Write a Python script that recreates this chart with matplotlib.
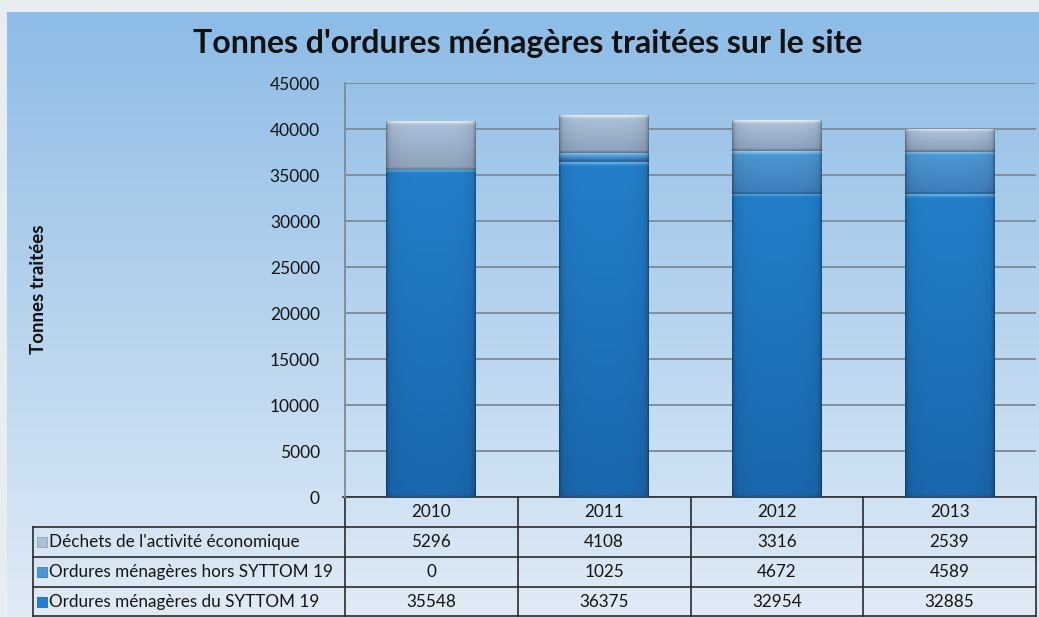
import numpy as np
import matplotlib
matplotlib.use("Agg")
import matplotlib.pyplot as plt
from matplotlib.colors import to_rgb
from matplotlib.transforms import blended_transform_factory

# data
years = ["2010", "2011", "2012", "2013"]
names = ["Ordures ménagères du SYTTOM 19",
         "Ordures ménagères hors SYTTOM 19",
         "Déchets de l'activité économique"]
syttom = [35548, 36375, 32954, 32885]
hors_syttom = [0, 1025, 4672, 4589]
dechets = [5296, 4108, 3316, 2539]
series = [syttom, hors_syttom, dechets]

W, H = 1039, 617
plt.rcParams["font.family"] = ["Lato", "DejaVu Sans"]
fig = plt.figure(figsize=(W / 100, H / 100), dpi=100)
fig.patch.set_facecolor("#e8eef0")

# blue panel with vertical gradient
bg = fig.add_axes([7 / W, 0, 1 - 7 / W, 1 - 12 / H], zorder=-5)
c_top, c_bot = np.array(to_rgb("#8dbce6")), np.array(to_rgb("#e0ebf6"))
t = np.linspace(0, 1, 256)[:, None]
bg.imshow((c_top * (1 - t) + c_bot * t)[:, None, :], aspect="auto", extent=[0, 1, 0, 1])
bg.axis("off")

# plot area in pixels
L, R, T, B = 345, 1036, 83, 497
ax = fig.add_axes([L / W, 1 - B / H, (R - L) / W, (B - T) / H])
ax.patch.set_alpha(0)
ymax = 45000

# gradient styles: highlight, body top, body bottom, bottom edge
styles = [
    ("#6cbcf0", "#237fcb", "#1a67ad", "#175894"),
    ("#93d2f4", "#4c97d3", "#3f7fbd", "#2a5a8a"),
    ("#eef3f9", "#aabfd8", "#8fa3bd", "#5f738d"),
]


def seg_gradient(hpx, st, hl_px=4, edge_px=3):
    n = max(int(round(hpx)), 2)
    p = np.arange(n) + 0.5
    pos = [0, hl_px, max(hl_px + 0.1, n - edge_px), n]
    cols = np.array([to_rgb(c) for c in st])
    col = np.stack([np.interp(p, pos, cols[:, k]) for k in range(3)], axis=1)
    u = np.linspace(-1, 1, 90)
    shade = 1 - 0.1 * np.abs(u) ** 4 - 0.25 * np.abs(u) ** 30
    return np.clip(col[:, None, :] * shade[None, :, None], 0, 1)


x = np.arange(len(years))
bw = 0.52
bottom = np.zeros(len(years))
for vals, st in zip(series, styles):
    bars = ax.bar(x, vals, bw, bottom=bottom, color=st[1], zorder=3, linewidth=0)
    for rect in bars:
        h = rect.get_height()
        if h <= 0:
            continue
        hpx = h / ymax * (B - T)
        im = ax.imshow(seg_gradient(hpx, st), aspect="auto", zorder=4,
                       extent=[rect.get_x(), rect.get_x() + rect.get_width(),
                               rect.get_y(), rect.get_y() + h])
        im.set_clip_path(rect)
    bottom += np.array(vals)

ax.set_xlim(-0.5, len(years) - 0.5)
ax.set_ylim(0, ymax)
ax.set_yticks(np.arange(0, ymax + 1, 5000))
ax.set_xticks([])
ax.set_axisbelow(True)
ax.yaxis.grid(True, color="#7d8a96", lw=1.3)
ax.tick_params(axis="y", length=0, pad=18, labelsize=12.5, labelcolor="#151515")
for s in ["right", "bottom", "top"]:
    ax.spines[s].set_visible(False)
ax.spines["left"].set_color("#7d8a96")
ax.spines["left"].set_linewidth(1.3)

fig.text(38 / W, 1 - 289 / H, "Tonnes traitées", rotation=90, weight="bold",
         size=13.5, ha="center", va="center", color="#111111")
fig.text(528 / W, 1 - 43 / H, "Tonnes d'ordures ménagères traitées sur le site",
         size=23, weight="bold", ha="center", va="center", color="#111111")

# data table under the axis


def yax(py):
    return (B - py) / (B - T)


def xax(px):
    return (px - L) / (R - L)


tr = blended_transform_factory(ax.transData, ax.transAxes)
lc, lw = "#2b2b2b", 1.2
row_edges = [497, 527, 557, 587, 616]
x_left = 33
# horizontal lines
ax.plot([xax(343), 1], [yax(497)] * 2, color=lc, lw=lw, transform=ax.transAxes, clip_on=False)
for py in row_edges[1:]:
    ax.plot([xax(x_left), 1], [yax(py)] * 2, color=lc, lw=lw, transform=ax.transAxes, clip_on=False)
# vertical lines
for xb in np.arange(len(years) + 1) - 0.5:
    ax.plot([xb, xb], [yax(497), yax(616)], color=lc, lw=lw, transform=tr, clip_on=False)
ax.plot([xax(x_left)] * 2, [yax(527), yax(616)], color=lc, lw=lw, transform=ax.transAxes, clip_on=False)

txt = dict(size=12.3, va="center", color="#151515", clip_on=False)
for i, yr in enumerate(years):
    ax.text(i, yax(512), yr, ha="center", transform=tr, **txt)
for r, k in enumerate([2, 1, 0]):
    yc = yax(542 + 30 * r)
    ax.plot([xax(42)], [yc], marker="s", ms=6.5, color=styles[k][1],
            mec=styles[k][2], mew=0.6, transform=ax.transAxes, clip_on=False)
    ax.text(xax(49), yc, names[k], ha="left", transform=ax.transAxes, **txt)
    for i, v in enumerate(series[k]):
        ax.text(i, yc, str(v), ha="center", transform=tr, **txt)

fig.savefig("out.png", dpi=100, facecolor=fig.get_facecolor())
